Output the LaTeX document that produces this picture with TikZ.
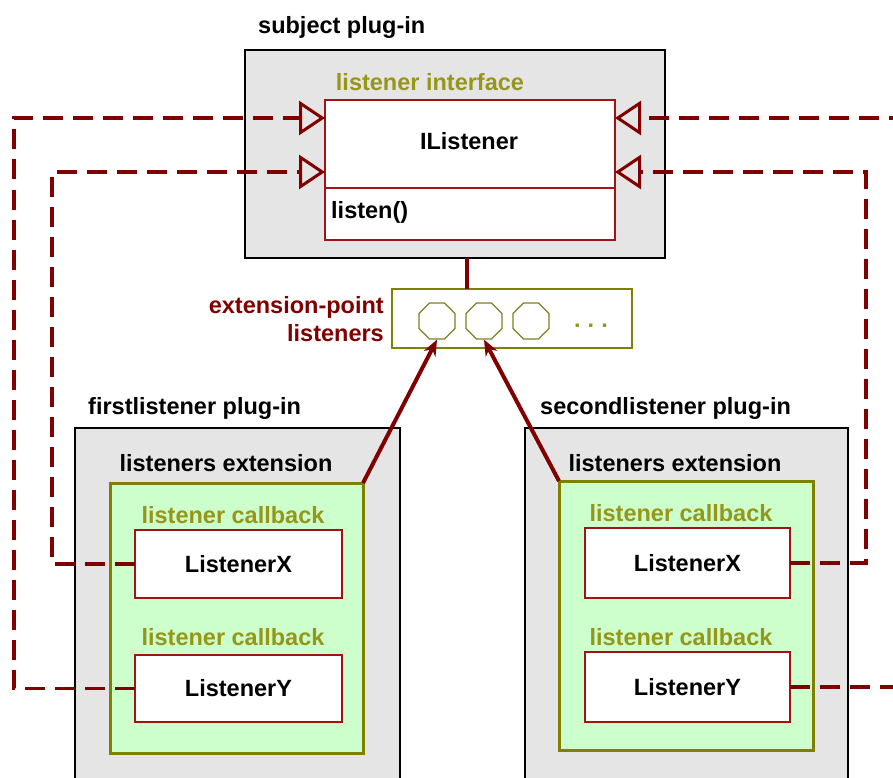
\documentclass[tikz,border=0pt]{standalone}
\usepackage{fontspec}
\setmainfont{Liberation Sans}
\usetikzlibrary{arrows.meta, positioning, shapes.geometric}
\definecolor{maroon}{RGB}{128,0,0}
\definecolor{boxred}{RGB}{160,20,20}
\definecolor{olivetxt}{RGB}{150,150,25}
\definecolor{olivedk}{RGB}{128,128,0}
\definecolor{plugingray}{RGB}{229,229,229}
\definecolor{calgreen}{RGB}{204,255,204}
\tikzset{%
  txt/.style={font=\fontsize{23.5}{28}\selectfont\bfseries, inner sep=0pt},
  oltxt/.style={txt, text=olivetxt},
  plugin/.style={draw=black, line width=1.2pt, fill=plugingray, anchor=north west,
                 inner sep=0pt, outer sep=0pt},
  extbox/.style={draw=olivedk, line width=3pt, fill=calgreen, anchor=north west,
                 inner sep=0pt, outer sep=0pt},
  classbox/.style={txt, draw=boxred, line width=1.5pt, fill=white, anchor=north west,
                   outer sep=0pt},
  realize/.style={draw=maroon, line width=3.5pt, dash pattern=on 20pt off 10pt,
                  -{Triangle[open, length=26pt, width=34pt, line width=3pt]}},
  callback/.style={draw=maroon, line width=3.5pt, dash pattern=on 20pt off 10pt},
  uses/.style={draw=maroon, line width=4pt, -{Stealth[length=16pt, width=13pt]}},
}

\begin{document}
\begin{tikzpicture}[x=1pt, y=-1pt]
\useasboundingbox (0,0) rectangle (893,778);
\clip (0,0) rectangle (893,778);

% subject plug-in with the listener interface
\node[plugin, minimum width=420pt, minimum height=208pt] (subj) at (245,50) {};
\node[txt, anchor=west] (subjlbl) at (258,27) {subject plug-in};
\node[oltxt] (ifacelbl) at (430,82) {listener interface};
\node[classbox, minimum width=290pt, minimum height=140pt] (ilist) at (325,100) {};
\draw[boxred, line width=1.5pt] (ilist.west |- 0,188) -- (ilist.east |- 0,188);
\node[txt] (ilistname) at (469,141) {IListener};
\node[txt, anchor=west] (listen) at (331,212) {listen()};

% extension point
\node[draw=olivedk, line width=2pt, fill=white, anchor=north west, minimum width=240pt,
      minimum height=59pt, outer sep=0pt] (xpt) at (392,289) {};
\node[txt, text=maroon, align=right, anchor=east] (xptlbl) at (384,319)
     {extension-point\\listeners};
\foreach \i/\x in {1/437, 2/484, 3/531}
  \node[regular polygon, regular polygon sides=8, minimum size=39pt, inner sep=0pt,
        draw=olivedk!70!gray, line width=1.2pt] (c\i) at (\x,321) {};
\node[txt, text=olivetxt] (dots) at (591,326) {.\hspace{7pt}.\hspace{7pt}.};
\draw[maroon, line width=4pt] (subj.south -| 467,0) -- (xpt.north -| 467,0);

% firstlistener plug-in
\node[plugin, minimum width=325pt, minimum height=370pt] (p1) at (75,428) {};
\node[txt, anchor=west] (p1lbl) at (88,408) {firstlistener plug-in};
\node[txt] (ext1lbl) at (226,463) {listeners extension};
\node[extbox, minimum width=253pt, minimum height=270pt] (ext1) at (110,483) {};
\node[oltxt] (cb1a) at (233,515) {listener callback};
\node[classbox, minimum width=207pt, minimum height=68pt] (lx1) at (135,530) {ListenerX};
\node[oltxt] (cb1b) at (233,637) {listener callback};
\node[classbox, minimum width=207pt, minimum height=67pt] (ly1) at (135,655) {ListenerY};

% secondlistener plug-in
\node[plugin, minimum width=323pt, minimum height=370pt] (p2) at (525,428) {};
\node[txt, anchor=west] (p2lbl) at (540,408) {secondlistener plug-in};
\node[txt] (ext2lbl) at (675,463) {listeners extension};
\node[extbox, minimum width=254pt, minimum height=269pt] (ext2) at (559,481) {};
\node[oltxt] (cb2a) at (681,513) {listener callback};
\node[classbox, minimum width=205pt, minimum height=70pt] (lx2) at (585,528) {ListenerX};
\node[oltxt] (cb2b) at (681,637) {listener callback};
\node[classbox, minimum width=205pt, minimum height=70pt] (ly2) at (585,652) {ListenerY};

% corners of the dashed connectors
\coordinate (lout) at (14,118);
\coordinate (linn) at (52,172);
\coordinate (rinn) at (866,172);
\coordinate (rout) at (910,118);

% callbacks realize the interface
\draw[realize] (ly1.west) -| (lout) -- (lout -| ilist.west);
\draw[realize] (lx1.west) -| (linn) -- (linn -| ilist.west);
\draw[realize] (lx2.east) -| (rinn) -- (rinn -| ilist.east);
\draw[realize] (ly2.east) -| (rout) -- (rout -| ilist.east);

% extensions plug into the extension point
\draw[uses] (ext1.north east) -- (c1.south);
\draw[uses] (ext2.north west) -- (c2.south);

\end{tikzpicture}
\end{document}
